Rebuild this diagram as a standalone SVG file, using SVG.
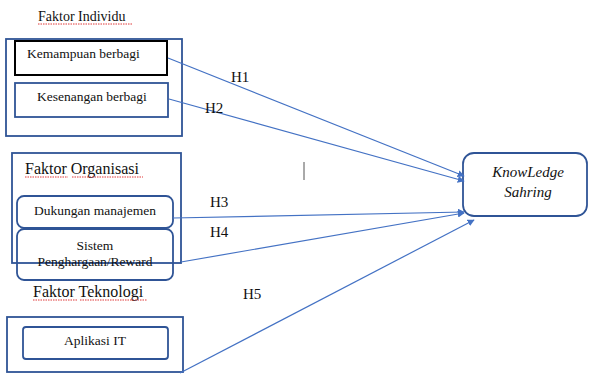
<svg xmlns="http://www.w3.org/2000/svg" width="590" height="376" viewBox="0 0 590 376">
<defs>
<style>
.t{font-family:"Liberation Serif","Times New Roman",serif;fill:#111;}
.s{font-size:13.5px;}
.h{font-size:16px;}
.lbl{font-size:15px;}
.box{fill:none;stroke:#2F5496;stroke-width:1.8;}
.rbox{fill:#fff;stroke:#2F5496;stroke-width:1.8;}
.con{stroke:#4472C4;stroke-width:1.2;fill:none;marker-end:url(#ah);}
.sq{stroke:#d22;stroke-width:0.9;fill:none;stroke-dasharray:1.5 1;}
</style>
<marker id="ah" viewBox="0 0 10 10" refX="9" refY="5" markerWidth="7" markerHeight="7" markerUnits="userSpaceOnUse" orient="auto">
<path d="M0,0 L10,5 L0,10 z" fill="#4472C4"/>
</marker>
</defs>
<rect width="590" height="376" fill="#fff"/>

<g id="individu">
<text class="t" x="38" y="21" style="font-size:14px">Faktor Individu</text>
<path class="sq" d="M38,24 H133"/>
<rect class="box" x="6" y="39" width="176" height="97"/>
</g>
<g id="kemampuan">
<rect x="15" y="41" width="152" height="34" fill="#fff" stroke="#000" stroke-width="2"/>
<text class="t s" x="27" y="58">Kemampuan berbagi</text>
</g>
<g id="kesenangan">
<rect class="box" x="15" y="83" width="153" height="34"/>
<text class="t s" x="37" y="101">Kesenangan berbagi</text>
</g>

<g id="organisasi">
<rect class="box" x="12" y="153" width="169" height="110"/>
<text class="t h" x="25" y="174">Faktor Organisasi</text>
<path class="sq" d="M25,177 H68 M72,177 H143"/>
</g>
<g id="dukungan">
<rect class="rbox" x="17" y="196" width="156" height="32" rx="7"/>
<text class="t s" x="95" y="215" text-anchor="middle">Dukungan manajemen</text>
</g>
<g id="sistem">
<path d="M17,270 V236 a7,7 0 0 1 7,-7 H166 a7,7 0 0 1 7,7 V273 a7,7 0 0 1 -7,7 H24 a7,7 0 0 1 -7,-7 z" fill="none" stroke="#2F5496" stroke-width="1.8"/>
<text class="t s" x="95" y="250" text-anchor="middle">Sistem</text>
<text class="t s" x="95" y="266" text-anchor="middle">Penghargaan/Reward</text>
</g>

<g id="teknologi">
<text class="t h" x="33" y="297">Faktor Teknologi</text>
<path class="sq" d="M33,300 H77 M80,300 H147"/>
<rect class="box" x="7" y="317" width="176" height="55"/>
</g>
<g id="aplikasi">
<rect class="box" x="23" y="327" width="145" height="32" rx="3"/>
<text class="t s" x="95" y="345" text-anchor="middle">Aplikasi IT</text>
</g>

<g id="knowledge">
<rect class="rbox" x="463" y="153" width="124" height="63" rx="11"/>
<text class="t" x="528" y="177" text-anchor="middle" style="font-size:15px;font-style:italic">KnowLedge</text>
<text class="t" x="528" y="197" text-anchor="middle" style="font-size:15px;font-style:italic">Sahring</text>
</g>

<g id="connectors">
<line class="con" x1="168" y1="58" x2="464" y2="176"/>
<line class="con" x1="169" y1="99" x2="464" y2="181"/>
<line class="con" x1="173" y1="218" x2="464" y2="212"/>
<line class="con" x1="181" y1="262" x2="464" y2="213"/>
<line class="con" x1="180" y1="373" x2="474" y2="220"/>
</g>

<g id="labels">
<text class="t lbl" x="231" y="82">H1</text>
<text class="t lbl" x="205" y="113">H2</text>
<text class="t lbl" x="210" y="207">H3</text>
<text class="t lbl" x="210" y="237">H4</text>
<text class="t lbl" x="243" y="299">H5</text>
</g>
<line x1="304" y1="162" x2="304" y2="180" stroke="#555" stroke-width="1"/>
</svg>
